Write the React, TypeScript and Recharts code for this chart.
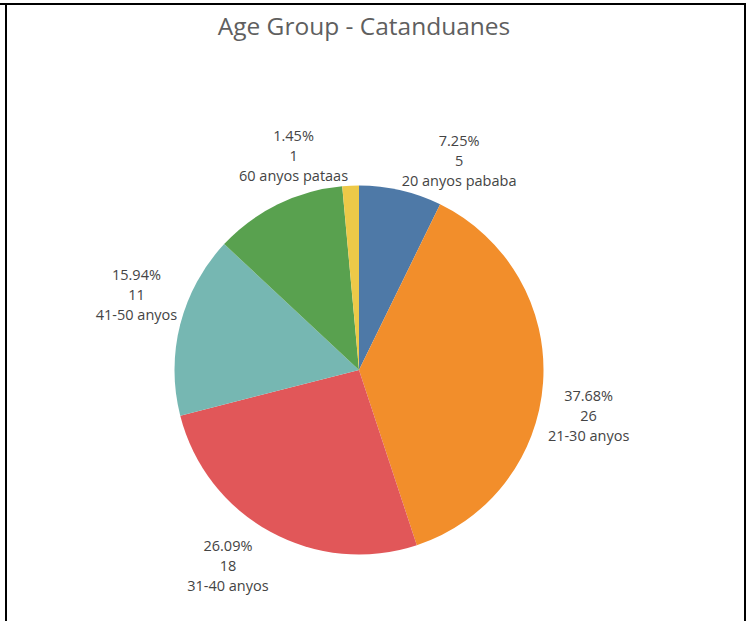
import { Cell, Pie, PieChart } from "recharts";

const categories = [
  "20 anyos pababa",
  "21-30 anyos",
  "31-40 anyos",
  "41-50 anyos",
  "51-60 anyos",
  "60 anyos pataas",
];
const counts = [5, 26, 18, 11, 8, 1];
const showLabel = [true, true, true, true, false, true];

const colors = ["#4E79A7", "#F28E2B", "#E15759", "#76B7B2", "#59A14F", "#EDC948"];

// label placement tweaks (clockwise degrees, px from centre) to mimic Tableau
const labelNudge = [12.4, 7.2, 5.2, 4.4, 0, -14.3];
const labelRadius = [233, 234, 235, 235, 234, 225];

const total = counts.reduce((a, b) => a + b, 0);
const data = categories.map((name, i) => ({ name, value: counts[i] }));

const RADIAN = Math.PI / 180;
const FONT = "'Open Sans', sans-serif";

function renderLabel(props: any) {
  const { cx, cy, midAngle, index, value, name } = props;
  if (!showLabel[index]) return null;
  const angle = midAngle - labelNudge[index];
  const r = labelRadius[index];
  const x = cx + r * Math.cos(-angle * RADIAN);
  const y = cy + r * Math.sin(-angle * RADIAN);
  const pct = ((value / total) * 100).toFixed(2) + "%";
  return (
    <text
      x={x}
      y={y}
      textAnchor="middle"
      dominantBaseline="central"
      fill="#444"
      fontSize={14.5}
      fontFamily={FONT}
    >
      <tspan x={x} dy={-20}>
        {pct}
      </tspan>
      <tspan x={x} dy={20}>
        {value}
      </tspan>
      <tspan x={x} dy={20}>
        {name}
      </tspan>
    </text>
  );
}

export default function App() {
  return (
    <div
      style={{
        position: "absolute",
        left: 0,
        top: 0,
        width: 752,
        height: 621,
        background: "#fff",
        overflow: "hidden",
      }}
    >
      <div style={{ position: "absolute", left: 0, top: 3, width: 746, height: 2, background: "#000" }} />
      <div style={{ position: "absolute", left: 5, top: 3, width: 2, height: 618, background: "#000" }} />
      <div style={{ position: "absolute", left: 744, top: 3, width: 2, height: 618, background: "#000" }} />
      <div
        style={{
          position: "absolute",
          left: 0,
          top: 9,
          width: 728,
          textAlign: "center",
          fontFamily: FONT,
          fontSize: 24.5,
          color: "#5f5f5f",
          lineHeight: "34px",
        }}
      >
        Age Group - Catanduanes
      </div>
      <PieChart
        width={752}
        height={621}
        margin={{ top: 0, right: 0, bottom: 0, left: 0 }}
        style={{ position: "absolute", left: 0, top: 0 }}
      >
        <Pie
          data={data}
          dataKey="value"
          nameKey="name"
          cx={359}
          cy={370}
          outerRadius={184.5}
          startAngle={90}
          endAngle={-270}
          stroke="none"
          label={renderLabel}
          labelLine={false}
          isAnimationActive={false}
        >
          {data.map((d, i) => (
            <Cell key={d.name} fill={colors[i]} />
          ))}
        </Pie>
      </PieChart>
    </div>
  );
}
